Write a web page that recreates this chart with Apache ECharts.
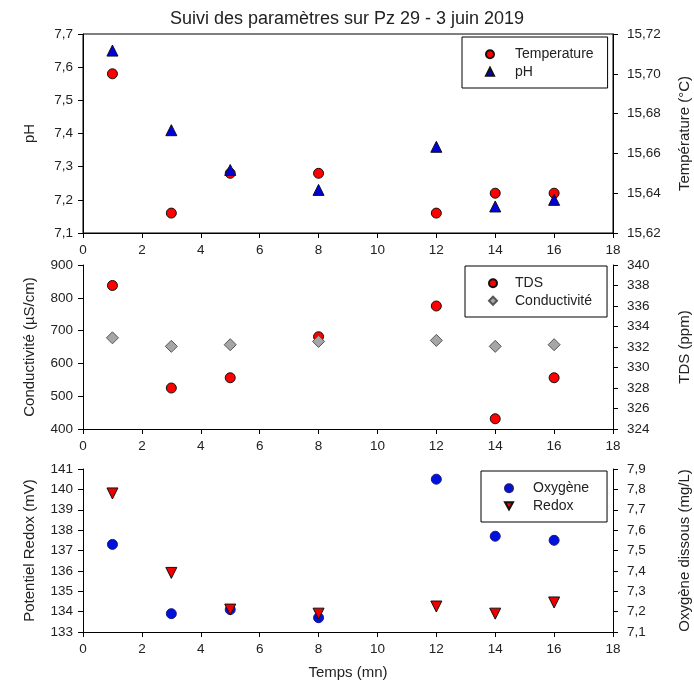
<!DOCTYPE html>
<html><head><meta charset="utf-8">
<script src="https://cdn.jsdelivr.net/npm/echarts@6/dist/echarts.min.js"></script>
<style>html,body{margin:0;padding:0;background:#fff}#c{width:694px;height:690px}</style>
</head><body><div id="c"></div>
<script>
const temps = [1, 3, 5, 8, 12, 14, 16];
const phValues = [7.65, 7.41, 7.29, 7.23, 7.36, 7.18, 7.20];
const temperatureValues = [15.70, 15.63, 15.65, 15.65, 15.63, 15.64, 15.64];
const conductiviteValues = [678, 652, 657, 667, 670, 652, 657];
const tdsValues = [338, 328, 329, 333, 336, 325, 329];
const redoxValues = [139.8, 135.9, 134.1, 133.9, 134.25, 133.9, 134.45];
const oxygeneValues = [7.53, 7.19, 7.21, 7.17, 7.85, 7.57, 7.55];

const pts = v => temps.map((t, i) => [t, v[i]]);
const FONT = 'Liberation Sans, Arial, sans-serif';
const TXT = '#222';
const tfmt = v => String(v).replace('.', ',');
const fmt2 = v => v.toFixed(2).replace('.', ',');
const fmt1 = v => v.toFixed(1).replace('.', ',');

const grids = [
  {left: 83, right: 81, top: 34, height: 199, show: true, borderColor: '#000', borderWidth: 1, outerBoundsMode: 'none'},
  {left: 83, right: 81, top: 265, height: 164, outerBoundsMode: 'none'},
  {left: 83, right: 81, top: 469, height: 163, outerBoundsMode: 'none'}
];
const axisCommon = {
  axisLine: {show: true, lineStyle: {color: '#000', width: 1}},
  axisTick: {show: true, length: 5, lineStyle: {color: '#000'}},
  splitLine: {show: false},
  axisLabel: {color: TXT, fontFamily: FONT, fontSize: 13.5},
  nameTextStyle: {color: TXT, fontFamily: FONT, fontSize: 15}
};
const xAxes = [0, 1, 2].map(g => Object.assign({}, axisCommon, {
  type: 'value', gridIndex: g, min: 0, max: 18, interval: 2,
  axisLabel: Object.assign({}, axisCommon.axisLabel, {margin: 10}),
  name: g === 2 ? 'Temps (mn)' : '', nameLocation: 'middle', nameGap: 33
}));
function yAx(g, pos, min, max, interval, name, gap, f) {
  return Object.assign({}, axisCommon, {
    type: 'value', gridIndex: g, position: pos, min, max, interval,
    name, nameLocation: 'middle', nameRotate: 90, nameGap: gap,
    axisLabel: Object.assign({}, axisCommon.axisLabel, {formatter: f, margin: pos === 'left' ? 10 : 14})
  });
}
const yAxes = [
  yAx(0, 'left', 7.1, 7.7, 0.1, 'pH', 46, fmt1),
  yAx(0, 'right', 15.62, 15.72, 0.02, 'Température (°C)', 64, fmt2),
  yAx(1, 'left', 400, 900, 100, 'Conductivité (µS/cm)', 46, tfmt),
  yAx(1, 'right', 324, 340, 2, 'TDS (ppm)', 64, tfmt),
  yAx(2, 'left', 133, 141, 1, 'Potentiel Redox (mV)', 46, tfmt),
  yAx(2, 'right', 7.1, 7.9, 0.1, 'Oxygène dissous (mg/L)', 64, fmt1)
];
const border = {borderColor: '#111', borderWidth: 1, opacity: 1};
const series = [
  {name: 'Temperature', type: 'scatter', xAxisIndex: 0, yAxisIndex: 1, data: pts(temperatureValues),
   symbol: 'circle', symbolSize: 10, itemStyle: Object.assign({color: '#ff0000'}, border)},
  {name: 'pH', type: 'scatter', xAxisIndex: 0, yAxisIndex: 0, data: pts(phValues),
   symbol: 'triangle', symbolSize: 11, itemStyle: Object.assign({color: '#0000dd'}, border)},
  {name: 'TDS', type: 'scatter', xAxisIndex: 1, yAxisIndex: 3, data: pts(tdsValues),
   symbol: 'circle', symbolSize: 10, itemStyle: Object.assign({color: '#ff0000'}, border)},
  {name: 'Conductivité', type: 'scatter', xAxisIndex: 1, yAxisIndex: 2, data: pts(conductiviteValues),
   symbol: 'diamond', symbolSize: 12, itemStyle: {color: '#a6a6a6', borderColor: '#555', borderWidth: 1, opacity: 1}},
  {name: 'Oxygène', type: 'scatter', xAxisIndex: 2, yAxisIndex: 5, data: pts(oxygeneValues),
   symbol: 'circle', symbolSize: 10, itemStyle: {color: '#0010dd', borderColor: '#1a1a80', borderWidth: 1, opacity: 1}},
  {name: 'Redox', type: 'scatter', xAxisIndex: 2, yAxisIndex: 4, data: pts(redoxValues),
   symbol: 'triangle', symbolRotate: 180, symbolSize: 11, itemStyle: Object.assign({color: '#ee0000'}, border)}
];
function leg(names, left, top, padR, textPad) {
  return {data: names, orient: 'vertical', left, top,
    borderColor: '#000', borderWidth: 1, padding: [10, padR, 9, 23], itemGap: 3,
    itemWidth: 8, itemHeight: 8, backgroundColor: '#fff',
    textStyle: {color: TXT, fontFamily: FONT, fontSize: 14, lineHeight: 14.5, padding: [0, 0, 0, textPad]}};
}
const invTri = 'path://M0,0 L10,0 L5,9 Z';
const option = {
  animation: false,
  backgroundColor: '#fff',
  title: {text: 'Suivi des paramètres sur Pz 29 - 3 juin 2019', left: 'center', top: 5,
    textStyle: {color: TXT, fontFamily: FONT, fontSize: 18, fontWeight: 'normal'}},
  grid: grids,
  xAxis: xAxes,
  yAxis: yAxes,
  legend: [
    leg(['Temperature', 'pH'], 462, 37, 14, 16),
    leg(['TDS', 'Conductivité'], 465, 266, 15, 13),
    leg(['Oxygène', {name: 'Redox', icon: invTri}], 481, 471, 18, 15)
  ],
  series
};
echarts.init(document.getElementById('c'), null, {renderer: 'canvas'}).setOption(option);
</script></body></html>
